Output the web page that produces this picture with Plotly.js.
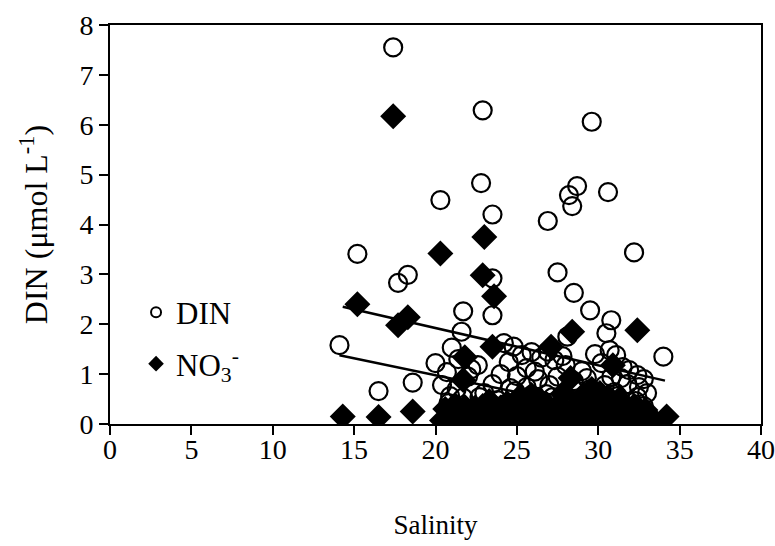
<!DOCTYPE html>
<html>
<head>
<meta charset="utf-8">
<script src="https://cdn.plot.ly/plotly-3.0.1.min.js"></script>
<style>html,body{margin:0;padding:0;background:#fff;}#chart{width:775px;height:546px;}</style>
</head>
<body>
<div id="chart"></div>
<script>
// DIN (open circles): salinity and concentration (umol/L)
const dinSalinity = [17.4,22.9,29.6,22.8,20.3,28.7,28.2,28.4,30.6,23.5,26.9,15.2,32.2,18.3,17.7,23.5,27.5,28.5,29.5,21.7,23.5,30.8,30.5,14.1,21.6,21.0,28.1,24.2,24.8,25.9,29.8,31.1,34.0,20.0,22.6,24.5,25.6,20.7,32.4,18.6,16.5,20.4,23.5,25.6,21.7,22.7,32.4,
  26.5,27.3,28.0,29.0,30.2,31.5,30.8,31.8,32.8,29.5,28.5,27.5,26.3,25.0,24.0,22.0,21.3,26.8,28.0,30.0,31.2,33.0,24.3,26.0,29.2,31.6,22.5,20.8,32.8,27.2,28.1,32.5,
  21.4,22.2,23.0,24.6,25.3,26.1,26.9,27.8,29.3,30.4,31.0,31.9,32.3,20.9,23.8,25.9,27.0,28.8,30.7,31.4,29.9,24.9,26.6];
const dinValue = [7.55,6.29,6.06,4.83,4.49,4.77,4.59,4.37,4.65,4.20,4.07,3.41,3.44,2.99,2.83,2.92,3.04,2.63,2.28,2.26,2.18,2.08,1.82,1.58,1.85,1.53,1.75,1.62,1.55,1.44,1.40,1.38,1.35,1.22,1.18,1.24,1.12,1.04,0.98,0.83,0.66,0.78,0.80,0.74,0.53,0.54,0.54,
  1.33,1.28,1.18,1.06,1.22,1.14,0.94,0.80,0.90,0.70,0.86,0.95,0.90,0.96,1.00,0.95,0.70,0.60,0.55,0.50,0.56,0.62,0.40,0.36,0.30,0.30,0.32,0.42,0.36,0.54,0.52,0.74,
  1.30,1.10,0.62,0.72,1.38,1.05,1.45,1.36,0.92,0.78,0.64,1.08,0.46,0.56,0.48,0.58,0.78,0.66,1.48,0.92,0.40,0.66,0.46];

// NO3- (filled diamonds)
const no3Salinity = [17.4,23.0,20.3,22.9,23.6,15.2,17.7,18.3,32.4,28.4,23.5,21.8,27.1,21.7,28.3,30.9,14.3,16.5,18.6,34.2,
  20.4,20.8,21.3,21.7,22.1,22.6,23.0,23.5,23.9,24.3,24.8,25.2,25.7,26.1,26.6,27.0,27.4,27.9,28.3,28.8,29.2,29.7,30.1,30.6,31.0,31.5,31.9,32.4,32.8,33.2,
  20.9,21.5,22.0,22.6,23.2,23.7,24.3,24.9,25.4,26.0,26.5,27.1,27.6,28.2,28.7,29.3,29.9,30.4,31.0,31.5,32.1,32.6,
  21.8,22.9,24.0,24.7,25.5,26.3,26.8,27.6,28.6,29.1,29.8,30.3,31.0,31.7,32.2,
  25.2,27.8,29.6,30.6,26.4,28.9,30.1,31.3,23.3,25.9,
  20.6,21.2,22.4,23.6,24.4,32.9,33.1];
const no3Value = [6.17,3.75,3.42,2.98,2.56,2.40,1.98,2.14,1.88,1.85,1.55,1.34,1.55,0.88,0.92,1.18,0.15,0.14,0.25,0.15,
  0.07,0.05,0.08,0.05,0.07,0.04,0.06,0.05,0.07,0.04,0.06,0.08,0.05,0.04,0.07,0.05,0.06,0.04,0.08,0.05,0.06,0.04,0.07,0.05,0.06,0.04,0.07,0.05,0.06,0.05,
  0.20,0.22,0.18,0.21,0.24,0.19,0.22,0.20,0.23,0.18,0.21,0.24,0.20,0.22,0.19,0.23,0.21,0.20,0.24,0.19,0.22,0.18,
  0.34,0.36,0.33,0.38,0.35,0.37,0.40,0.34,0.36,0.38,0.42,0.35,0.39,0.34,0.36,
  0.55,0.60,0.70,0.55,0.48,0.52,0.62,0.50,0.46,0.58,
  0.30,0.38,0.32,0.36,0.42,0.28,0.18];

// Trend lines (end points)
const dinTrendX = [14.1, 34.1];
const dinTrendY = [1.38, 0.02];
const no3TrendX = [14.3, 34.1];
const no3TrendY = [2.35, 0.87];

const font = 'Liberation Serif';

const traces = [
  {x: dinSalinity, y: dinValue, type: 'scatter', mode: 'markers', showlegend: false,
   marker: {symbol: 'circle-open', size: 18, color: '#000', line: {width: 2.2, color: '#000'}}},
  {x: no3Salinity, y: no3Value, type: 'scatter', mode: 'markers', showlegend: false,
   marker: {symbol: 'diamond', size: 20, color: '#000', line: {width: 0}}},
  {x: dinTrendX, y: dinTrendY, type: 'scatter', mode: 'lines', showlegend: false,
   line: {color: '#000', width: 2.5}},
  {x: no3TrendX, y: no3TrendY, type: 'scatter', mode: 'lines', showlegend: false,
   line: {color: '#000', width: 2.5}},
  {x: [null], y: [null], type: 'scatter', mode: 'markers', name: 'DIN', legendgroup: 'a',
   marker: {symbol: 'circle-open', size: 10, color: '#000', line: {width: 2, color: '#000'}}},
  {x: [null], y: [null], type: 'scatter', mode: 'markers', name: 'NO<sub>3</sub><sup>-</sup>', legendgroup: 'b',
   marker: {symbol: 'diamond', size: 12, color: '#000'}}
];

const layout = {
  width: 775, height: 546,
  margin: {l: 110, r: 14, t: 25, b: 122},
  paper_bgcolor: '#fff', plot_bgcolor: '#fff',
  font: {family: font, color: '#000', size: 22},
  showlegend: true,
  legend: {x: 0.04, y: 0.215, xanchor: 'left', yanchor: 'middle', bgcolor: 'rgba(0,0,0,0)',
           font: {family: font, size: 31, color: '#000'}, tracegroupgap: 8, traceorder: 'grouped'},
  xaxis: {range: [0, 40], dtick: 5, tick0: 0, showgrid: false, zeroline: false,
          showline: true, linecolor: '#000', linewidth: 2, mirror: true,
          ticks: 'outside', ticklen: 9, tickwidth: 2, tickcolor: '#000',
          tickfont: {family: font, size: 28}, ticklabelstandoff: -10,
          title: {text: 'Salinity', font: {family: font, size: 27}, standoff: 52}},
  yaxis: {range: [0, 8], dtick: 1, tick0: 0, showgrid: false, zeroline: false,
          showline: true, linecolor: '#000', linewidth: 2, mirror: true,
          ticks: 'outside', ticklen: 9, tickwidth: 2, tickcolor: '#000',
          tickfont: {family: font, size: 28},
          title: {text: 'DIN (μmol L<sup>-1</sup>)', font: {family: font, size: 32}, standoff: 22}}
};

Plotly.newPlot('chart', traces, layout, {displayModeBar: false, staticPlot: true});
</script>
</body>
</html>
